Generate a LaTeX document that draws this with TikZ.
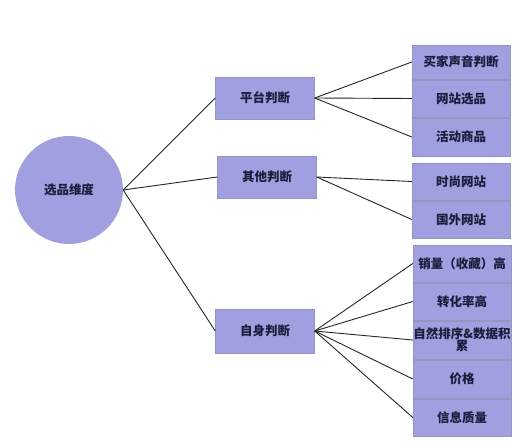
\documentclass[tikz,border=0pt]{standalone}
\usepackage{fontspec}
\newfontfamily\cjk{Noto Sans CJK SC}
\definecolor{lav}{RGB}{160,160,224}
\definecolor{ink}{RGB}{28,28,60}
\begin{document}
\begin{tikzpicture}[x=1pt,y=-1pt,
  root/.style={circle, fill=lav, minimum size=108pt, inner sep=0pt, font=\cjk\bfseries\fontsize{12.5}{14}\selectfont, text=ink},
  mid/.style={rectangle, fill=lav, draw=lav!70!gray, minimum width=99pt, minimum height=42pt, inner sep=1pt, font=\cjk\bfseries\fontsize{12.5}{14}\selectfont, text=ink},
  leaf/.style={rectangle, fill=lav, draw=lav!70!gray, minimum width=98pt, minimum height=37pt, inner sep=1pt, align=center, font=\cjk\bfseries\fontsize{12.5}{14}\selectfont, text=ink},
  link/.style={draw=black!85, line width=0.9pt}]
\useasboundingbox (0,0) rectangle (528,447);

\node[root](root) at (69,190) {选品维度};

\node[mid](p1) at (265,98) {平台判断};
\node[mid](p2) at (267,177) {其他判断};
\node[mid, minimum height=44pt](p3) at (265,331) {自身判断};

\node[leaf, minimum height=34pt](a1) at (461,62) {买家声音判断};
\node[leaf](a2) at (461,98.5) {网站选品};
\node[leaf, minimum height=38pt](a3) at (461,137) {活动商品};

\node[leaf](b1) at (461,181.5) {时尚网站};
\node[leaf](b2) at (461,219.5) {国外网站};

\node[leaf](c1) at (462,263.5) {销量（收藏）高};
\node[leaf](c2) at (462,301.5) {转化率高};
\node[leaf, minimum height=38pt, inner sep=0pt](c3) at (462,340) {自然排序\&数据积\\[-2pt]累};
\node[leaf, minimum height=38pt](c4) at (462,379) {价格};
\node[leaf](c5) at (462,417.5) {信息质量};

\draw[link] (root.east) to (p1.west);
\draw[link] (root.east) to (p2.west);
\draw[link] (root.east) to (p3.west);

\draw[link] (p1.east) to (a1.west);
\draw[link] (p1.east) to (a2.west);
\draw[link] (p1.east) to (a3.west);

\draw[link] (p2.east) to (b1.west);
\draw[link] (p2.east) to (b2.west);

\draw[link] (p3.east) to (c1.west);
\draw[link] (p3.east) to (c2.west);
\draw[link] (p3.east) to (c3.west);
\draw[link] (p3.east) to (c4.west);
\draw[link] (p3.east) to (c5.west);

\end{tikzpicture}
\end{document}
